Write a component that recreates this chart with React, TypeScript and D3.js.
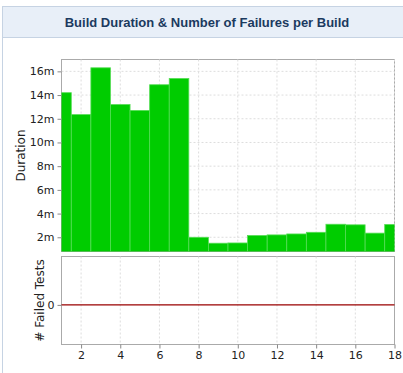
import { useRef, useEffect } from 'react'
import * as d3 from 'd3'

const builds = [1, 2, 3, 4, 5, 6, 7, 8, 9, 10, 11, 12, 13, 14, 15, 16, 17, 18]
// build duration in minutes
const durations = [14.2, 12.35, 16.3, 13.2, 12.7, 14.87, 15.4, 2.0, 1.5, 1.52, 2.15, 2.2, 2.28, 2.42, 3.1, 3.05, 2.35, 3.08]
const failures = [0, 0, 0, 0, 0, 0, 0, 0, 0, 0, 0, 0, 0, 0, 0, 0, 0, 0]
const durationTicks = [2, 4, 6, 8, 10, 12, 14, 16]
const buildTicks = [2, 4, 6, 8, 10, 12, 14, 16, 18]
const failureTicks = [0]

const W = 403
const H = 373
const FONT = '"DejaVu Sans", sans-serif'

export default function App() {
  const svgRef = useRef<SVGSVGElement>(null)

  useEffect(() => {
    if (!svgRef.current) return
    const svg = d3.select(svgRef.current)
    svg.selectAll('*').remove()

    const left = 61.5
    const right = 394.5
    const topY0 = 59.5
    const topY1 = 251.5
    const botY0 = 256.5
    const botY1 = 344.5

    // header panel
    svg.append('rect').attr('x', 2.5).attr('y', 6.5).attr('width', W).attr('height', 31)
      .attr('fill', '#e8eff8').attr('stroke', '#c6d3e3')
    svg.append('line').attr('x1', 2.5).attr('x2', 2.5).attr('y1', 37).attr('y2', H)
      .attr('stroke', '#c6d3e3')
    svg.append('text').attr('x', 207).attr('y', 26.5).attr('text-anchor', 'middle')
      .attr('font-family', '"Liberation Sans", Arial, sans-serif').attr('font-weight', 700)
      .attr('font-size', 13).attr('fill', '#1b3a5f')
      .text('Build Duration & Number of Failures per Build')

    const x = d3.scaleLinear().domain([1, 18]).range([left, right])
    const y = d3.scaleLinear().domain([0.8, 17]).range([topY1, topY0])
    const yf = d3.scaleLinear().domain([-0.9, 1.1]).range([botY1, botY0])

    svg.append('defs').append('clipPath').attr('id', 'clipTop')
      .append('rect').attr('x', left).attr('y', topY0).attr('width', right - left).attr('height', topY1 - topY0)

    // top plot
    const gTop = svg.append('g')
    gTop.append('rect').attr('x', left).attr('y', topY0).attr('width', right - left).attr('height', topY1 - topY0)
      .attr('fill', '#fff').attr('stroke', '#aaa')
    gTop.selectAll('line.vg').data(buildTicks).join('line')
      .attr('x1', d => x(d)).attr('x2', d => x(d)).attr('y1', topY0).attr('y2', topY1)
      .attr('stroke', '#ddd').attr('stroke-dasharray', '2,2')
    gTop.selectAll('line.hg').data(durationTicks).join('line')
      .attr('x1', left).attr('x2', right).attr('y1', d => y(d)).attr('y2', d => y(d))
      .attr('stroke', '#ddd').attr('stroke-dasharray', '2,2')

    gTop.append('g').attr('clip-path', 'url(#clipTop)')
      .selectAll('rect').data(builds).join('rect')
      .attr('x', (d) => x(d - 0.5))
      .attr('width', x(2) - x(1))
      .attr('y', (_, i) => y(durations[i]))
      .attr('height', (_, i) => topY1 - y(durations[i]) + 1)
      .attr('fill', '#00cc00')
      .attr('stroke', '#55dd55').attr('stroke-width', 0.8)

    const yAxis = svg.append('g').attr('transform', `translate(${left},0)`)
      .call(d3.axisLeft(y).tickValues(durationTicks).tickFormat(d => `${d}m`).tickSize(4).tickPadding(3))
    yAxis.select('.domain').remove()
    yAxis.selectAll('line').attr('stroke', '#888')
    yAxis.selectAll('text').attr('font-family', FONT).attr('font-size', 11).attr('fill', '#222')

    svg.append('text').attr('transform', `translate(25,${(topY0 + topY1) / 2}) rotate(-90)`)
      .attr('text-anchor', 'middle').attr('font-family', FONT).attr('font-size', 12).attr('fill', '#222')
      .text('Duration')

    // bottom plot
    const gBot = svg.append('g')
    gBot.append('rect').attr('x', left).attr('y', botY0).attr('width', right - left).attr('height', botY1 - botY0)
      .attr('fill', '#fff').attr('stroke', '#aaa')
    gBot.selectAll('line.vg').data(buildTicks.slice(0, -1)).join('line')
      .attr('x1', d => x(d)).attr('x2', d => x(d)).attr('y1', botY0).attr('y2', botY1)
      .attr('stroke', '#ddd').attr('stroke-dasharray', '2,2')

    const line = d3.line<number>().x(d => x(d)).y((_, i) => yf(failures[i]))
    gBot.append('path').datum(builds).attr('d', line)
      .attr('fill', 'none').attr('stroke', '#990000').attr('stroke-width', 1.2)

    const yfAxis = svg.append('g').attr('transform', `translate(${left},0)`)
      .call(d3.axisLeft(yf).tickValues(failureTicks).tickFormat(d3.format('d')).tickSize(4).tickPadding(3))
    yfAxis.select('.domain').remove()
    yfAxis.selectAll('line').attr('stroke', '#888')
    yfAxis.selectAll('text').attr('font-family', FONT).attr('font-size', 11).attr('fill', '#222')

    svg.append('text').attr('transform', `translate(44,${(botY0 + botY1) / 2}) rotate(-90)`)
      .attr('text-anchor', 'middle').attr('font-family', FONT).attr('font-size', 12).attr('fill', '#222')
      .text('# Failed Tests')

    const xAxis = svg.append('g').attr('transform', `translate(0,${botY1})`)
      .call(d3.axisBottom(x).tickValues(buildTicks).tickSize(4).tickPadding(3))
    xAxis.select('.domain').remove()
    xAxis.selectAll('line').attr('stroke', '#888')
    xAxis.selectAll('text').attr('font-family', FONT).attr('font-size', 11).attr('fill', '#222')
  }, [])

  return (
    <svg ref={svgRef} width={W} height={H}
      style={{ position: 'absolute', left: 0, top: 0, display: 'block', background: '#fff' }} />
  )
}
